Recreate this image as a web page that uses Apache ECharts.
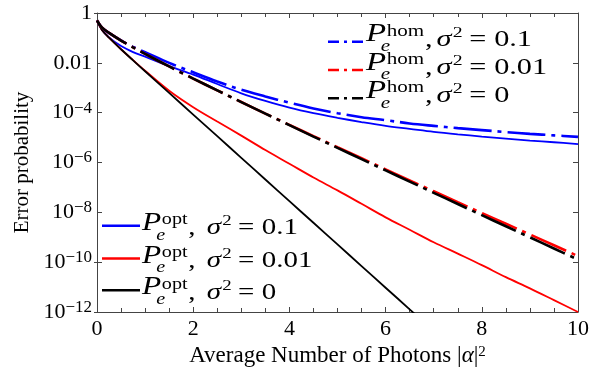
<!DOCTYPE html>
<html><head><meta charset="utf-8">
<script src="https://cdn.jsdelivr.net/npm/echarts@6/dist/echarts.min.js"></script>
<style>html,body{margin:0;padding:0;background:#fff}#c{width:597px;height:376px}</style>
</head><body><div id="c"></div>
<script>
// ---------- data ----------
const xs = [0, 0.1, 0.25, 0.5, 0.75, 1, 1.5, 2, 2.5, 3, 3.5, 4, 4.5, 5, 5.5, 6, 6.5, 7, 7.5, 8, 8.5, 9, 9.5, 10];

// homodyne, dash-dot
const homS01  = [0.5, 0.2635, 0.1587, 0.0794, 0.0437, 0.0269, 1.0e-2, 4.17e-3, 1.78e-3, 8.3e-4, 4.47e-4, 2.51e-4, 1.48e-4, 9.5e-5, 6.6e-5, 5.0e-5, 3.7e-5, 2.95e-5, 2.4e-5, 2.0e-5, 1.66e-5, 1.41e-5, 1.23e-5, 1.07e-5];
const homS001 = [0.5, 0.2635, 0.1587, 0.0786, 0.0416, 0.02275, 7.15e-3, 2.34e-3, 7.85e-4, 2.67e-4, 9.2e-5, 3.25e-5, 1.15e-5, 4.1e-6, 1.48e-6, 5.3e-7, 1.92e-7, 7.0e-8, 2.55e-8, 9.4e-9, 3.5e-9, 1.29e-9, 4.8e-10, 1.75e-10];
const homS0   = [0.5, 0.2635, 0.1587, 0.0786, 0.0416, 0.02275, 7.15e-3, 2.34e-3, 7.83e-4, 2.66e-4, 9.13e-5, 3.17e-5, 1.10e-5, 3.87e-6, 1.37e-6, 4.82e-7, 1.71e-7, 6.05e-8, 2.16e-8, 7.7e-9, 2.76e-9, 9.9e-10, 3.55e-10, 1.27e-10];

// optimal, solid
const optS01  = [0.5, 0.215, 0.105, 0.047, 0.027, 0.0178, 7.4e-3, 3.39e-3, 1.41e-3, 6.0e-4, 2.95e-4, 1.58e-4, 9.5e-5, 6.2e-5, 4.2e-5, 2.95e-5, 2.24e-5, 1.7e-5, 1.35e-5, 1.1e-5, 9.1e-6, 7.6e-6, 6.5e-6, 5.5e-6];
const optS001 = [0.5, 0.213, 0.1025, 0.0351, 0.0128, 4.8e-3, 7.6e-4, 1.66e-4, 4.4e-5, 1.2e-5, 3.16e-6, 8.9e-7, 2.5e-7, 7.6e-8, 2.2e-8, 6.3e-9, 2.0e-9, 6.3e-10, 2.2e-10, 7.6e-11, 2.5e-11, 8.9e-12, 3.0e-12, 1.0e-12];
const optS0   = [0.5, 0.213, 0.1025, 0.0351, 0.0126, 4.6e-3, 6.2e-4, 8.39e-5, 1.14e-5, 1.54e-6, 2.08e-7, 2.81e-8, 3.81e-9, 5.15e-10, 6.97e-11, 9.4e-12, 1.28e-12, 1.7e-13, null, null, null, null, null, null];

const sigmaLabels = ['0.1', '0.01', '0'];
const xTitle = 'Average Number of Photons |{it|α}|{sup|2}';
const yTitle = 'Error probability';

// ---------- chart ----------
const FONT = '"Liberation Serif", "Times New Roman", serif';
const BLUE = '#0000ff', RED = '#ff0000', BLACK = '#000000';
const AX = '#444444';
const DASHDOT = [38, 6, 4, 6];

function pairs(arr) { return xs.map((x, i) => [x, arr[i]]); }

function lineSeries(name, arr, color, dashed, z) {
  return {
    name, type: 'line', data: pairs(arr), showSymbol: false, smooth: 0.35, clip: true,
    z: z,
    lineStyle: { color, width: dashed ? 2.6 : 1.8, type: dashed ? DASHDOT : 'solid' },
    itemStyle: { color }, emphasis: { disabled: true }
  };
}

const ctx = document.createElement('canvas').getContext('2d');
function tw(text, font) { ctx.font = font; return ctx.measureText(text).width; }

function buildRow(sup, val, extraSpace) {
  const fP = 'italic 25px ' + FONT, fS = '16px ' + FONT, fE = 'italic 16px ' + FONT;
  const fR = '23px ' + FONT, fSig = 'italic 23px ' + FONT, f2 = '15px ' + FONT;
  const items = [];
  let x = 0;
  const wP = tw('P', fP);
  items.push({ t: 'P', f: fP, fs: 25, x: 0, b: 0 });
  const supX = wP + 0.5;
  items.push({ t: sup, f: fS, fs: 16, x: supX, b: -6.5 });
  items.push({ t: 'e', f: fE, fs: 16, x: wP - 4, b: 9 });
  x = Math.max(supX + tw(sup, fS), wP - 4 + tw('e', fE)) + 0.5;
  items.push({ t: ',', f: fR, fs: 23, x: x, b: 4 });
  x += tw(',', fR) + 3 + extraSpace;
  items.push({ t: 'σ', f: fSig, fs: 23, x: x, b: 4 });
  x += tw('σ', fSig) + 1;
  items.push({ t: '2', f: f2, fs: 15, x: x, b: -5.5 });
  x += tw('2', f2) + 5;
  items.push({ t: '=', f: fR, fs: 23, x: x, b: 4 });
  x += tw('=', fR) + 6;
  items.push({ t: val, f: fR, fs: 23, x: x, b: 4 });
  x += tw(val, fR);
  return { items, width: x };
}

function legendBlock(cfg) {
  const els = [];
  const rows = cfg.rows.map(r => buildRow(cfg.sup, r.val, cfg.extraSpace));
  const S = (cfg.row1End - cfg.textX) / rows[0].width;
  cfg.rows.forEach((r, i) => {
    const Ly = cfg.ys[i];
    els.push({
      type: 'line', silent: true, z: 10,
      shape: { x1: cfg.lineX1, y1: Ly, x2: cfg.lineX2, y2: Ly },
      style: { stroke: r.color, lineWidth: 2.6, lineDash: cfg.dashed ? [11, 5, 3, 5] : null }
    });
    els.push({
      type: 'group', x: cfg.textX, y: Ly + cfg.pOff, scaleX: S, silent: true, z: 10,
      children: rows[i].items.map(it => ({
        type: 'text', x: it.x, y: it.b - 0.3375 * it.fs, silent: true, z: 10,
        style: { text: it.t, font: it.f, fill: '#000', align: 'left', textAlign: 'left', verticalAlign: 'middle', textVerticalAlign: 'middle' }
      }))
    });
  });
  return els;
}

const graphics = []
  .concat(legendBlock({
    sup: 'hom', dashed: true, extraSpace: 0, textX: 366, row1End: 532,
    lineX1: 328, lineX2: 363, ys: [41.7, 70, 98.3], pOff: 1.6,
    rows: [{ val: sigmaLabels[0], color: BLUE }, { val: sigmaLabels[1], color: RED }, { val: sigmaLabels[2], color: BLACK }]
  }))
  .concat(legendBlock({
    sup: 'opt', dashed: false, extraSpace: 6, textX: 142, row1End: 298,
    lineX1: 102, lineX2: 140, ys: [225.7, 258.5, 290.3], pOff: 6,
    rows: [{ val: sigmaLabels[0], color: BLUE }, { val: sigmaLabels[1], color: RED }, { val: sigmaLabels[2], color: BLACK }]
  }));

function yFmt(v) {
  const e = Math.round(Math.log10(v));
  if (e === 0) return '{b|1}';
  if (e === -2) return '{b|0.01}';
  return '{b|10}{sup|\u2212' + (-e) + '}';
}

const tickStyle = { color: AX, width: 1 };
const baseX = {
  type: 'value', min: 0, max: 10, interval: 2,
  axisLine: { show: true, onZero: false, lineStyle: { color: AX, width: 1 } },
  axisTick: { show: true, inside: true, length: 5, lineStyle: tickStyle },
  minorTick: { show: true, splitNumber: 4, length: 4, lineStyle: tickStyle },
  splitLine: { show: false }, minorSplitLine: { show: false }
};
const baseY = {
  type: 'log', logBase: 100, min: 1e-12, max: 1,
  axisLine: { show: true, onZero: false, lineStyle: { color: AX, width: 1 } },
  axisTick: { show: true, inside: true, length: 5, lineStyle: tickStyle },
  splitLine: { show: false }
};
const decadeY = {
  type: 'log', logBase: 10, min: 1e-12, max: 1, splitNumber: 12,
  axisLine: { show: false }, axisLabel: { show: false },
  axisTick: { show: true, inside: true, length: 3, lineStyle: tickStyle },
  splitLine: { show: false }
};

const option = {
  animation: false,
  backgroundColor: '#ffffff',
  grid: { left: 97, right: 19, top: 13, bottom: 64, containLabel: false },
  xAxis: [
    Object.assign({}, baseX, {
      position: 'bottom',
      axisLabel: { fontFamily: FONT, fontSize: 22, color: '#000', margin: 6 },
      name: xTitle, nameLocation: 'middle', nameGap: 18,
      nameTextStyle: {
        fontFamily: FONT, fontSize: 23, color: '#000',
        rich: {
          it: { fontFamily: FONT, fontSize: 23, fontStyle: 'italic', color: '#000' },
          sup: { fontFamily: FONT, fontSize: 15, color: '#000', verticalAlign: 'top', lineHeight: 14 }
        }
      }
    }),
    Object.assign({}, baseX, { position: 'top', axisLabel: { show: false } })
  ],
  yAxis: [
    Object.assign({}, baseY, {
      position: 'left',
      axisLabel: {
        formatter: yFmt, fontFamily: FONT, fontSize: 22, color: '#000', margin: 5,
        rich: {
          b: { fontFamily: FONT, fontSize: 22, color: '#000', lineHeight: 26, verticalAlign: 'middle' },
          sup: { fontFamily: FONT, fontSize: 17, color: '#000', verticalAlign: 'top', lineHeight: 16 }
        }
      },
      name: yTitle, nameLocation: 'middle', nameGap: 60,
      nameTextStyle: { fontFamily: FONT, fontSize: 21, color: '#000' }
    }),
    Object.assign({}, baseY, { position: 'right', axisLabel: { show: false } }),
    Object.assign({}, decadeY, { position: 'left' }),
    Object.assign({}, decadeY, { position: 'right' })
  ],
  series: [
    lineSeries('P_e^opt, σ²=0.1', optS01, BLUE, false, 2),
    lineSeries('P_e^opt, σ²=0.01', optS001, RED, false, 3),
    lineSeries('P_e^opt, σ²=0', optS0, BLACK, false, 4),
    lineSeries('P_e^hom, σ²=0.1', homS01, BLUE, true, 5),
    lineSeries('P_e^hom, σ²=0.01', homS001, RED, true, 6),
    lineSeries('P_e^hom, σ²=0', homS0, BLACK, true, 7)
  ],
  graphic: { elements: graphics }
};

const chart = echarts.init(document.getElementById('c'), null, { renderer: 'canvas' });
chart.setOption(option);
</script>
</body></html>
